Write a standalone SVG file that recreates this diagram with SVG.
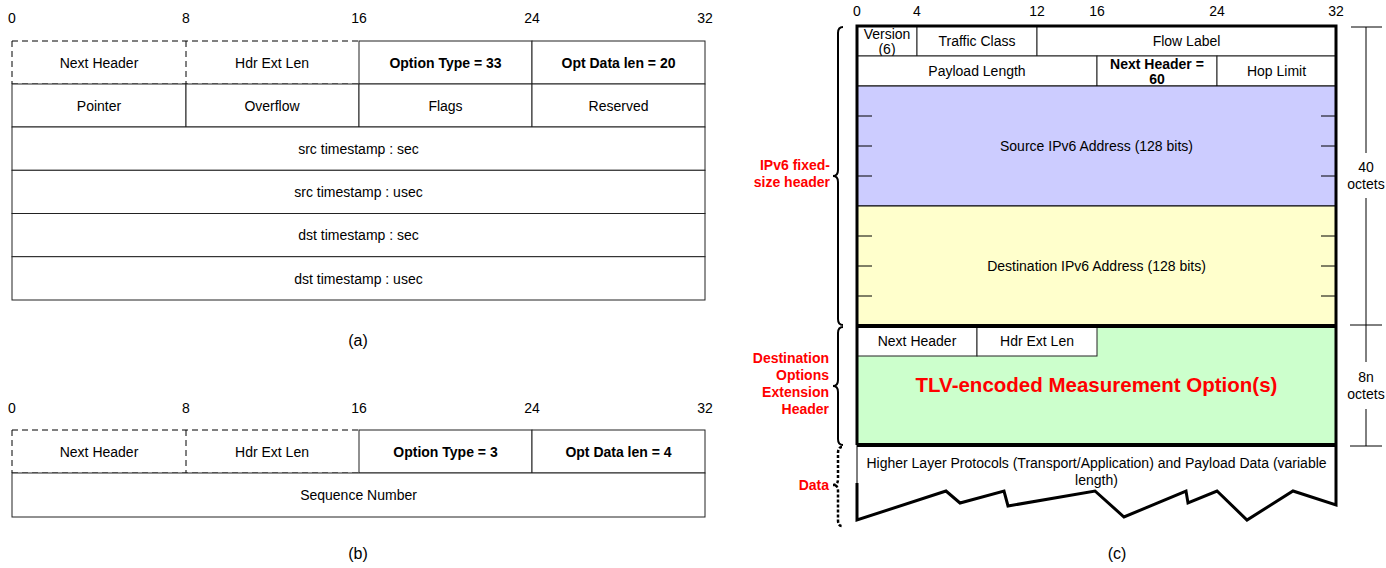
<svg xmlns="http://www.w3.org/2000/svg" width="1386" height="568" viewBox="0 0 1386 568">
  <style>
    text { font-family: "Liberation Sans", Arial, sans-serif; font-size: 14px; fill: #000; text-anchor: middle; dominant-baseline: central; }
    .b { font-weight: bold; }
    .cap { font-size: 16px; }
    .red { fill: #FF0000; font-weight: bold; }
    .redR { fill: #FF0000; font-weight: bold; text-anchor: end; }
    .cell { fill: #fff; stroke: #222; stroke-width: 1; }
    .dash { fill: none; stroke: #000; stroke-width: 1; stroke-dasharray: 6 4; }
    .thin { fill: none; stroke: #000; stroke-width: 1; }
    .thick { fill: none; stroke: #000; stroke-width: 3; }
    .brace { fill: none; stroke: #000; stroke-width: 2; }
    .dotted { stroke-width: 2.5; stroke-dasharray: 3 2; }
    .tick { stroke: #000; stroke-width: 1; }
  </style>

  <!-- (a) Timestamp option -->
  <g id="panel-a">
    <g id="a-scale">
      <text x="12" y="18">0</text>
      <text x="186" y="18">8</text>
      <text x="359" y="18">16</text>
      <text x="532" y="18">24</text>
      <text x="705" y="18">32</text>
    </g>
    <g id="a-next-header">
      <path class="dash" d="M12,41 H359 M12,41 V84 M186,41 V84 M12,84 H359"/>
      <text x="99" y="62.5">Next Header</text>
    </g>
    <g id="a-hdr-ext-len">
      <text x="272" y="62.5">Hdr Ext Len</text>
    </g>
    <g id="a-option-type">
      <rect class="cell" x="359" y="41" width="173" height="43"/>
      <text class="b" x="445.5" y="62.5">Option Type = 33</text>
    </g>
    <g id="a-opt-data-len">
      <rect class="cell" x="532" y="41" width="173" height="43"/>
      <text class="b" x="618.5" y="62.5">Opt Data len = 20</text>
    </g>
    <g id="a-pointer">
      <rect class="cell" x="12" y="84" width="174" height="43"/>
      <text x="99" y="105.5">Pointer</text>
    </g>
    <g id="a-overflow">
      <rect class="cell" x="186" y="84" width="173" height="43"/>
      <text x="272" y="105.5">Overflow</text>
    </g>
    <g id="a-flags">
      <rect class="cell" x="359" y="84" width="173" height="43"/>
      <text x="445.5" y="105.5">Flags</text>
    </g>
    <g id="a-reserved">
      <rect class="cell" x="532" y="84" width="173" height="43"/>
      <text x="618.5" y="105.5">Reserved</text>
    </g>
    <g id="a-src-sec">
      <rect class="cell" x="12" y="127" width="693" height="43.3"/>
      <text x="358.5" y="148.7">src timestamp : sec</text>
    </g>
    <g id="a-src-usec">
      <rect class="cell" x="12" y="170.3" width="693" height="43.2"/>
      <text x="358.5" y="192">src timestamp : usec</text>
    </g>
    <g id="a-dst-sec">
      <rect class="cell" x="12" y="213.5" width="693" height="43.2"/>
      <text x="358.5" y="235.2">dst timestamp : sec</text>
    </g>
    <g id="a-dst-usec">
      <rect class="cell" x="12" y="256.7" width="693" height="43.3"/>
      <text x="358.5" y="278.5">dst timestamp : usec</text>
    </g>
    <text class="cap" x="358" y="340">(a)</text>
  </g>

  <!-- (b) Sequence number option -->
  <g id="panel-b">
    <g id="b-scale">
      <text x="12" y="408">0</text>
      <text x="186" y="408">8</text>
      <text x="359" y="408">16</text>
      <text x="532" y="408">24</text>
      <text x="705" y="408">32</text>
    </g>
    <g id="b-next-header">
      <path class="dash" d="M12,430 H359 M12,430 V473 M186,430 V473 M12,473 H359"/>
      <text x="99" y="451.5">Next Header</text>
    </g>
    <g id="b-hdr-ext-len">
      <text x="272" y="451.5">Hdr Ext Len</text>
    </g>
    <g id="b-option-type">
      <rect class="cell" x="359" y="430" width="173" height="43"/>
      <text class="b" x="445.5" y="451.5">Option Type = 3</text>
    </g>
    <g id="b-opt-data-len">
      <rect class="cell" x="532" y="430" width="173" height="43"/>
      <text class="b" x="618.5" y="451.5">Opt Data len = 4</text>
    </g>
    <g id="b-sequence">
      <rect class="cell" x="12" y="473" width="693" height="44"/>
      <text x="358.5" y="495">Sequence Number</text>
    </g>
    <text class="cap" x="358" y="553">(b)</text>
  </g>

  <!-- (c) IPv6 packet with destination options header -->
  <g id="panel-c">
    <g id="c-scale">
      <text x="857" y="11">0</text>
      <text x="917" y="11">4</text>
      <text x="1037" y="11">12</text>
      <text x="1097" y="11">16</text>
      <text x="1217" y="11">24</text>
      <text x="1336" y="11">32</text>
    </g>

    <g id="c-version">
      <rect class="cell" x="857" y="26" width="60" height="30"/>
      <text x="887" y="34">Version</text>
      <text x="887" y="49">(6)</text>
    </g>
    <g id="c-traffic-class">
      <rect class="cell" x="917" y="26" width="120" height="30"/>
      <text x="977" y="41">Traffic Class</text>
    </g>
    <g id="c-flow-label">
      <rect class="cell" x="1037" y="26" width="299" height="30"/>
      <text x="1186.5" y="41">Flow Label</text>
    </g>
    <g id="c-payload-length">
      <rect class="cell" x="857" y="56" width="240" height="30"/>
      <text x="977" y="71">Payload Length</text>
    </g>
    <g id="c-next-header">
      <rect class="cell" x="1097" y="56" width="120" height="30"/>
      <text class="b" x="1157" y="64">Next Header =</text>
      <text class="b" x="1157" y="79">60</text>
    </g>
    <g id="c-hop-limit">
      <rect class="cell" x="1217" y="56" width="119" height="30"/>
      <text x="1276.5" y="71">Hop Limit</text>
    </g>

    <g id="c-source">
      <rect x="857" y="86" width="479" height="120" fill="#CCCCFF" stroke="#000" stroke-width="1"/>
      <path class="tick" d="M857,116 H872 M857,146 H872 M857,176 H872 M1321,116 H1336 M1321,146 H1336 M1321,176 H1336"/>
      <text x="1096.5" y="146">Source IPv6 Address (128 bits)</text>
    </g>
    <g id="c-destination">
      <rect x="857" y="206" width="479" height="120" fill="#FFFFCC" stroke="#000" stroke-width="1"/>
      <path class="tick" d="M857,236 H872 M857,266 H872 M857,296 H872 M1321,236 H1336 M1321,266 H1336 M1321,296 H1336"/>
      <text x="1096.5" y="266">Destination IPv6 Address (128 bits)</text>
    </g>

    <g id="c-dest-options">
      <rect x="857" y="326" width="479" height="119" fill="#CCFFCC"/>
      <rect class="cell" x="857" y="326" width="120" height="30"/>
      <text x="917" y="341">Next Header</text>
      <rect class="cell" x="977" y="326" width="120" height="30"/>
      <text x="1037" y="341">Hdr Ext Len</text>
      <text class="red" x="1096.5" y="384" style="font-size:20.5px">TLV-encoded Measurement Option(s)</text>
    </g>

    <g id="c-data">
      <path d="M857,445 H1336 V505 L1293,491 L1247,520 L1217,491 L1188,503 L1186,491 L1124,517 L1095,491 L1008,506 L1004,491 L960,503 L946,491 L857,520 Z" fill="#fff" stroke="none"/>
      <path class="thin" d="M857,445 V483"/>
      <path class="thick" d="M857,483 V520 L946,491 L960,503 L1004,491 L1008,506 L1095,491 L1124,517 L1186,491 L1188,503 L1217,491 L1247,520 L1293,491 L1336,505 V445"/>
      <text x="1096.5" y="463">Higher Layer Protocols (Transport/Application) and Payload Data (variable</text>
      <text x="1096.5" y="480">length)</text>
    </g>

    <!-- heavy outline of the header stack -->
    <path class="thick" d="M857,445 V26 H1336 V445"/>
    <path d="M857,326 H1336 M857,445 H1336" fill="none" stroke="#000" stroke-width="4"/>

    <text class="cap" x="1117" y="553">(c)</text>
  </g>

  <!-- braces, labels and size markers -->
  <g id="annotations">
    <g id="brace-fixed-header">
      <path class="brace" d="M843,27 Q838,27 838,33 V170 Q838,176 833,176 Q838,176 838,182 V319 Q838,325 843,325"/>
      <text class="redR" x="830" y="165">IPv6 fixed-</text>
      <text class="redR" x="830" y="182">size header</text>
    </g>
    <g id="brace-dest-options">
      <path class="brace" d="M843,327 Q838,327 838,333 V380 Q838,386 833,386 Q838,386 838,392 V439 Q838,445 843,445"/>
      <text class="redR" x="829" y="358">Destination</text>
      <text class="redR" x="829" y="375">Options</text>
      <text class="redR" x="829" y="392">Extension</text>
      <text class="redR" x="829" y="409">Header</text>
    </g>
    <g id="brace-data">
      <path class="brace dotted" d="M842,447 Q838,447 838,453 V479 Q838,485 833,485 Q838,485 838,491 V520 Q838,526 842,526"/>
      <text class="redR" x="829" y="485">Data</text>
    </g>
    <g id="size-40">
      <path class="tick" d="M1351,27 H1382 M1366,27 V153 M1366,198 V325 M1350,325 H1382"/>
      <text x="1366" y="167">40</text>
      <text x="1366" y="184">octets</text>
    </g>
    <g id="size-8n">
      <path class="tick" d="M1366,325 V362 M1366,409 V446 M1350,446 H1382"/>
      <text x="1366" y="377">8n</text>
      <text x="1366" y="394">octets</text>
    </g>
  </g>
</svg>
